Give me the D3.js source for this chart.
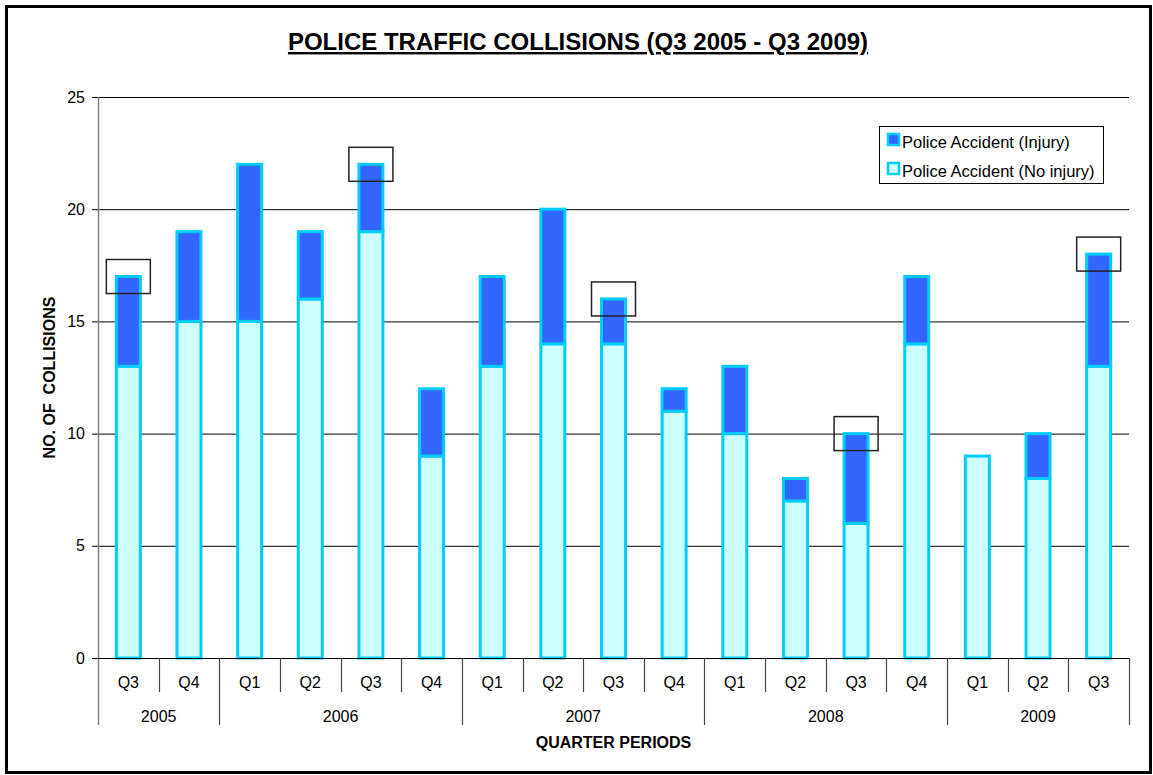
<!DOCTYPE html>
<html>
<head>
<meta charset="utf-8">
<script src="https://cdn.jsdelivr.net/npm/d3@7"></script>
<style>
  body { margin: 0; background: #fff; }
  svg { display: block; font-family: Arial, "Liberation Sans", sans-serif; }
</style>
</head>
<body>
<svg width="1153" height="775"></svg>
<script>
(function(){
	'use strict';

	// data
	const quarters = ['Q3','Q4','Q1','Q2','Q3','Q4','Q1','Q2','Q3','Q4','Q1','Q2','Q3','Q4','Q1','Q2','Q3'];
	const years = ['2005','2005','2006','2006','2006','2006','2007','2007','2007','2007','2008','2008','2008','2008','2009','2009','2009'];
	const noInjury = [13,15,15,16,19,9,13,14,14,11,10,7,6,14,9,8,13];
	const injury = [4,4,7,3,3,3,4,6,2,1,3,1,4,3,0,2,5];
	const highlighted = [0,4,8,12,16];
	const yTicks = [0,5,10,15,20,25];
	const seriesNames = ['Police Accident (Injury)', 'Police Accident (No injury)'];

	const svg = d3.select('svg');
	const width = 1153;
	const height = 775;
	const margin = {left: 98, right: 24, top: 97, bottom: 117};
	const plotW = width - margin.left - margin.right;
	const plotH = height - margin.top - margin.bottom;
	const fontSize = 16;

	// frame
	svg.append('rect')
		.attr('x', 6.5).attr('y', 6.5)
		.attr('width', width - 9).attr('height', height - 9)
		.attr('fill', 'none')
		.attr('stroke', '#000')
		.attr('stroke-width', 3);

	const g = svg.append('g')
		.attr('transform', `translate(${margin.left}, ${margin.top})`);

	const idx = d3.range(quarters.length);
	const x = d3.scaleBand().domain(idx).range([0, plotW]);
	const y = d3.scaleLinear().domain([0, 25]).range([plotH, 0]);

	// gridlines
	g.selectAll('.grid')
		.data(yTicks.filter(d => d > 0))
		.join('line')
			.attr('x1', 0).attr('x2', plotW)
			.attr('y1', d => y(d) + 0.5).attr('y2', d => y(d) + 0.5)
			.attr('stroke', '#000').attr('stroke-width', 1);

	// y axis
	const yAxis = g.append('g')
		.call(d3.axisLeft(y).tickValues(yTicks).tickSize(6).tickPadding(7));
	yAxis.select('.domain').remove();
	yAxis.selectAll('.tick line').attr('stroke', '#000');
	yAxis.selectAll('.tick text')
		.attr('font-size', fontSize).attr('fill', '#000')
		.attr('font-family', 'Arial, "Liberation Sans", sans-serif');
	g.append('line')
		.attr('x1', 0.5).attr('x2', 0.5)
		.attr('y1', 0).attr('y2', plotH + 67)
		.attr('stroke', '#808080').attr('stroke-width', 1.5);

	// bars
	const barW = 24;
	const stack = idx.map(i => ({i, base: noInjury[i], top: injury[i]}));
	const bars = g.append('g');
	bars.selectAll('.noinj')
		.data(stack)
		.join('rect')
			.attr('x', d => x(d.i) + x.bandwidth() / 2 - barW / 2)
			.attr('y', d => y(d.base))
			.attr('width', barW)
			.attr('height', d => y(0) - y(d.base))
			.attr('fill', '#CCFFFF')
			.attr('stroke', '#00CCFF')
			.attr('stroke-width', 3);
	bars.selectAll('.inj')
		.data(stack.filter(d => d.top > 0))
		.join('rect')
			.attr('x', d => x(d.i) + x.bandwidth() / 2 - barW / 2)
			.attr('y', d => y(d.base + d.top))
			.attr('width', barW)
			.attr('height', d => y(d.base) - y(d.base + d.top))
			.attr('fill', '#3366FF')
			.attr('stroke', '#00CCFF')
			.attr('stroke-width', 3);

	// zero axis line
	g.append('line')
		.attr('x1', 0).attr('x2', plotW)
		.attr('y1', plotH + 0.5).attr('y2', plotH + 0.5)
		.attr('stroke', '#000').attr('stroke-width', 1);

	// highlight boxes
	g.selectAll('.hl')
		.data(highlighted)
		.join('rect')
			.attr('x', i => x(i) + x.bandwidth() / 2 - 22)
			.attr('y', i => y(noInjury[i] + injury[i]) - 17)
			.attr('width', 44)
			.attr('height', 34)
			.attr('fill', 'none')
			.attr('stroke', '#222')
			.attr('stroke-width', 1.5);

	// x axis: quarter separators and labels
	const xa = g.append('g').attr('transform', `translate(0, ${plotH})`);
	const yearStart = idx.filter(i => i === 0 || years[i] !== years[i - 1]);
	xa.selectAll('.qsep')
		.data(d3.range(1, quarters.length + 1).filter(i => !yearStart.includes(i)))
		.join('line')
			.attr('x1', i => Math.round(x(i - 1) + x.bandwidth()) + 0.5)
			.attr('x2', i => Math.round(x(i - 1) + x.bandwidth()) + 0.5)
			.attr('y1', 0).attr('y2', i => i === quarters.length ? 67 : 34)
			.attr('stroke', '#444').attr('stroke-width', 1.2);
	xa.selectAll('.ysep')
		.data(yearStart.filter(i => i > 0))
		.join('line')
			.attr('x1', i => Math.round(x(i)) + 0.5)
			.attr('x2', i => Math.round(x(i)) + 0.5)
			.attr('y1', 0).attr('y2', 67)
			.attr('stroke', '#444').attr('stroke-width', 1.2);
	xa.selectAll('.qlab')
		.data(idx)
		.join('text')
			.attr('x', i => x(i) + x.bandwidth() / 2)
			.attr('y', 30)
			.attr('text-anchor', 'middle')
			.attr('font-size', fontSize)
			.text(i => quarters[i]);
	const yearGroups = d3.groups(idx, i => years[i]);
	xa.selectAll('.ylab')
		.data(yearGroups)
		.join('text')
			.attr('x', d => (x(d[1][0]) + x(d[1][d[1].length - 1]) + x.bandwidth()) / 2)
			.attr('y', 64)
			.attr('text-anchor', 'middle')
			.attr('font-size', fontSize)
			.text(d => d[0]);

	// axis titles
	svg.append('text')
		.attr('x', margin.left + plotW / 2)
		.attr('y', 748)
		.attr('text-anchor', 'middle')
		.attr('font-size', fontSize)
		.attr('font-weight', 'bold')
		.text('QUARTER PERIODS');
	svg.append('text')
		.attr('transform', `translate(55, ${margin.top + plotH / 2}) rotate(-90)`)
		.attr('text-anchor', 'middle')
		.attr('font-size', fontSize)
		.attr('font-weight', 'bold')
		.text('NO. OF \u00A0COLLISIONS');

	// title
	svg.append('text')
		.attr('x', 578)
		.attr('y', 50)
		.attr('text-anchor', 'middle')
		.attr('font-size', 24)
		.attr('font-weight', 'bold')
		.attr('text-decoration', 'underline')
		.text('POLICE TRAFFIC COLLISIONS (Q3 2005 - Q3 2009)');

	// legend
	const lg = svg.append('g').attr('transform', 'translate(879, 126)');
	lg.append('rect')
		.attr('x', 0.5).attr('y', 0.5)
		.attr('width', 224).attr('height', 57)
		.attr('fill', '#fff').attr('stroke', '#000').attr('stroke-width', 1);
	const legendFill = ['#3366FF', '#CCFFFF'];
	const item = lg.selectAll('.item')
		.data(seriesNames)
		.join('g')
			.attr('transform', (d, i) => `translate(9, ${20 + i * 29})`);
	item.append('rect')
		.attr('x', 0).attr('y', -12)
		.attr('width', 11).attr('height', 11)
		.attr('fill', (d, i) => legendFill[i])
		.attr('stroke', '#00CCFF').attr('stroke-width', 2.5);
	item.append('text')
		.attr('x', 14).attr('y', 2)
		.attr('font-size', 16.5)
		.text(d => d);
})();
</script>
</body>
</html>
